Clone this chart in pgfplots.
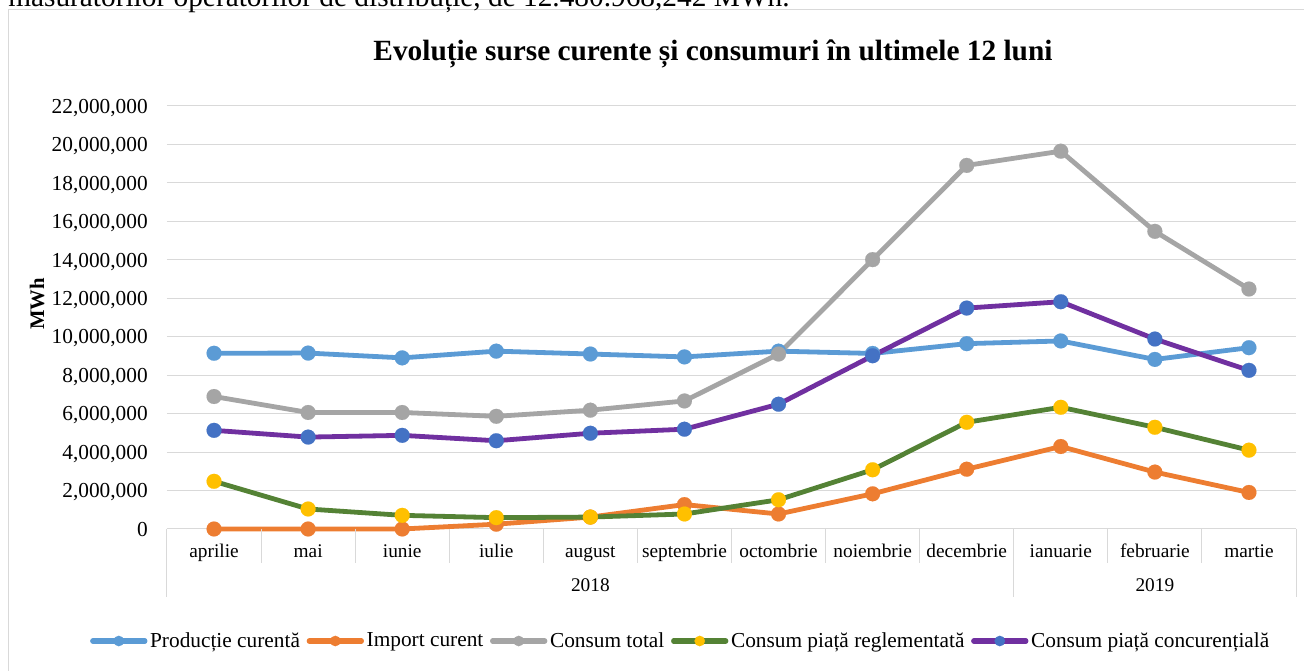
\documentclass[border=0pt]{standalone}
\usepackage{fontspec}
\setmainfont{Liberation Serif}
\usepackage{pgfplots}
\pgfplotsset{compat=1.18}
\definecolor{cProd}{HTML}{5B9BD5}
\definecolor{cImp}{HTML}{ED7D31}
\definecolor{cTot}{HTML}{A5A5A5}
\definecolor{cReg}{HTML}{548235}
\definecolor{cRegM}{HTML}{FFC000}
\definecolor{cCon}{HTML}{7030A0}
\definecolor{cConM}{HTML}{4472C4}
\definecolor{cGrid}{HTML}{D9D9D9}
\pgfplotsset{
  ser/.style n args={2}{color=#1, line width=3.6pt, line join=round, mark=*, mark size=5.6pt,
     mark options={fill=#2, draw=#2, line width=0.1pt}},
}
\begin{document}
\begin{tikzpicture}[x=1pt,y=1pt]
\useasboundingbox (0,0) rectangle (978,503.25);
\draw[color=cGrid, line width=0.75pt] (6,-20) rectangle (1000,495.75);
\node[anchor=base west, inner sep=0pt, font=\fontsize{22}{26}\selectfont] at (6,498.4) {măsurătorilor operatorilor de distribuție, de 12.480.968,242 MWh.};
\begin{axis}[
  at={(125.25pt,106.5pt)}, anchor=south west,
  scale only axis, width=846.75pt, height=317.25pt,
  xmin=-0.5, xmax=11.5, ymin=0, ymax=22000000,
  clip=false,
  axis line style={draw=none},
  major tick length=0pt,
  ytick={0,2000000,4000000,6000000,8000000,10000000,12000000,14000000,16000000,18000000,20000000,22000000},
  scaled y ticks=false,
  ymajorgrids,
  grid style={color=cGrid, line width=0.75pt},
  yticklabel style={/pgf/number format/.cd, fixed, precision=0, 1000 sep={,}, assume math mode=true, /tikz/.cd,
     anchor=base east, inner sep=0pt, xshift=-14.25pt, yshift=-5.4pt, font=\fontsize{16}{19}\selectfont},
  xtick={0,1,2,3,4,5,6,7,8,9,10,11},
  xticklabels={aprilie,mai,iunie,iulie,august,septembrie,octombrie,noiembrie,decembrie,ianuarie,februarie,martie},
  xticklabel style={anchor=base, inner sep=0pt, yshift=-21.75pt, font=\fontsize{14.5}{17}\selectfont},
  title={Evoluție surse curente și consumuri în ultimele 12 luni},
  title style={at={(axis description cs:0.4836,1.0898)}, anchor=base, inner sep=0pt, font=\bfseries\fontsize{22}{26}\selectfont},
  ylabel={MWh},
  ylabel style={at={(axis description cs:-0.1151,0.532)}, anchor=center, inner sep=0pt, font=\bfseries\fontsize{15.5}{18}\selectfont},
  legend columns=5,
  legend style={at={(0.4553,-0.2648)}, anchor=center, draw=none, fill=none,
     font=\fontsize{16}{19}\selectfont, nodes={inner sep=2pt},
     /tikz/every even column/.append style={column sep=3pt}},
  legend image code/.code={
     \draw[line width=4pt, line cap=round] (1.5pt,0pt) -- (40.5pt,0pt);
     \draw plot[mark size=3.9pt] coordinates {(21pt,0pt)};},
]
\addplot[ser={cProd}{cProd}] coordinates {
 (0,9140000) (1,9150000) (2,8900000) (3,9250000) (4,9100000) (5,8950000) (6,9250000) (7,9130000) (8,9640000) (9,9780000) (10,8820000) (11,9430000)};
\addlegendentry{Producție curentă}
\addplot[ser={cImp}{cImp}] coordinates {
 (0,0) (1,0) (2,0) (3,250000) (4,620000) (5,1270000) (6,780000) (7,1830000) (8,3110000) (9,4290000) (10,2960000) (11,1900000)};
\addlegendentry{Import curent}
\addplot[ser={cTot}{cTot}] coordinates {
 (0,6890000) (1,6060000) (2,6060000) (3,5860000) (4,6180000) (5,6660000) (6,9100000) (7,14010000) (8,18910000) (9,19650000) (10,15480000) (11,12481000)};
\addlegendentry{Consum total}
\addplot[ser={cReg}{cRegM}] coordinates {
 (0,2480000) (1,1040000) (2,710000) (3,590000) (4,620000) (5,780000) (6,1520000) (7,3080000) (8,5550000) (9,6330000) (10,5290000) (11,4100000)};
\addlegendentry{Consum piață reglementată}
\addplot[ser={cCon}{cConM}] coordinates {
 (0,5130000) (1,4780000) (2,4870000) (3,4590000) (4,4980000) (5,5190000) (6,6490000) (7,9010000) (8,11490000) (9,11820000) (10,9880000) (11,8250000)};
\addlegendentry{Consum piață concurențială}
\pgfplotsinvokeforeach{-0.5,0.5,1.5,2.5,3.5,4.5,5.5,6.5,7.5,8.5,9.5,10.5,11.5}{
  \draw[color=cGrid, line width=0.75pt] (axis cs:#1,0) -- ++(0pt,-25.5pt);
}
\pgfplotsinvokeforeach{-0.5,8.5,11.5}{
  \draw[color=cGrid, line width=0.75pt] (axis cs:#1,0) -- ++(0pt,-51pt);
}
\node[anchor=base, inner sep=0pt, font=\fontsize{14.5}{17}\selectfont, yshift=-47.25pt] at (axis cs:4,0) {2018};
\node[anchor=base, inner sep=0pt, font=\fontsize{14.5}{17}\selectfont, yshift=-47.25pt] at (axis cs:10,0) {2019};
\end{axis}
\end{tikzpicture}
\end{document}
